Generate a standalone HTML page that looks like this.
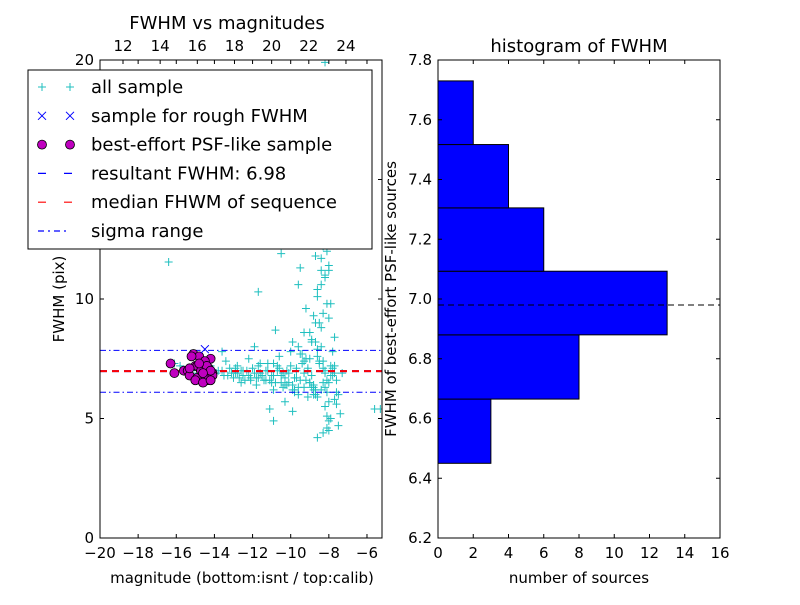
<!DOCTYPE html>
<html><head><meta charset="utf-8"><style>
body{margin:0;background:#fff;font-family:"Liberation Sans","DejaVu Sans",sans-serif}
svg text{font-family:"DejaVu Sans","Liberation Sans",sans-serif}
</style></head><body>
<svg id="fig" width="800" height="600" xmlns="http://www.w3.org/2000/svg">
<rect width="800" height="600" fill="#fff"/>
<g id="left"></g>
<g id="right"></g>
</svg>
<script>
const allMag=[-16.4,-16.1,-15.8,-15.2,-14.9,-14.6,-14.2,-13.9,-13.6,-13.3,-13.1,-12.9,-12.7,-12.5,-12.3,-12.1,-11.9,-11.7,-11.5,-11.3,-11.1,-10.9,-10.7,-10.5,-10.3,-10.1,-9.9,-9.7,-9.5,-9.3,-9.1,-8.9,-8.7,-8.5,-8.3,-8.1,-7.9,-7.7,-7.5,-13.4,-12.8,-12.2,-11.6,-11.0,-10.6,-10.2,-9.8,-9.4,-9.0,-8.6,-8.2,-7.8,-12.6,-11.8,-11.2,-10.4,-10.0,-9.6,-9.2,-8.8,-8.4,-8.0,-7.6,-11.9,-10.9,-9.9,-9.0,-8.5,-8.3,-8.1,-8.6,-8.4,-8.2,-8.0,-8.7,-8.3,-8.1,-7.9,-8.5,-8.2,-8.4,-8.0,-8.6,-8.3,-8.1,-8.5,-8.2,-8.4,-8.3,-8.6,-8.0,-8.8,-9.2,-9.6,-9.5,-10.5,-11.7,-13.6,-10.8,-7.9,-7.6,-7.4,-7.9,-8.2,-8.0,-9.9,-9.1,-10.3,-8.6,-8.1,-5.6,-5.3,-7.5,-7.3,-7.7,-8.7,-8.3,-8.0,-10.9,-11.1,-8.8,-8.1,-7.7,-9.6,-9.3,
-13.8,-13.5,-13.2,-13.0,-12.8,-12.6,-12.4,-12.2,-12.0,-11.8,-11.6,-11.4,-11.2,-11.0,-10.8,-10.6,-10.4,-10.2,-10.0,-9.8,-9.6,-9.4,-9.2,-9.0,-8.8,-8.6,-8.4,-8.2,-8.0,-7.8,-7.6,-12.9,-12.5,-12.1,-11.7,-11.3,-10.9,-10.5,-10.1,-9.7,-9.3,-8.9,-8.5,-8.1,-7.7,-11.5,-10.7,-9.9,-9.1,-8.7,-8.3,-7.9,-9.5,-8.9,-8.4,-8.0,-10.3,-9.7,-9.0,-8.6,-8.2,-7.8,-8.5,-8.3,-8.1,-8.4,-8.2,-8.6,-8.0,-8.3,-8.5,-8.1,-8.4,-8.2,-8.7,-8.9,-9.3,-9.8,-8.8,-8.3];
const allFwhm=[11.55,7.3,7.2,7.0,6.9,7.1,7.2,6.9,7.0,6.8,6.9,7.1,6.7,6.8,7.0,6.6,6.9,6.7,6.8,7.0,6.6,6.8,7.2,6.5,6.7,6.9,6.4,7.1,6.6,6.3,7.0,6.8,6.2,7.4,6.5,6.1,7.2,5.8,6.0,7.4,7.2,7.5,7.3,6.5,7.6,7.0,6.2,7.7,6.5,7.9,6.9,7.1,6.5,6.4,7.3,6.3,7.8,6.0,7.5,6.2,8.0,5.7,6.6,8.0,6.2,8.2,8.6,9.0,9.4,9.8,10.1,10.6,11.0,11.4,11.8,12.2,12.6,13.0,13.5,14.0,14.6,15.3,16.1,17.0,18.0,19.0,19.9,11.7,12.3,10.4,11.2,9.3,9.6,10.6,11.3,11.9,10.3,7.8,8.7,9.8,5.6,5.2,5.0,5.5,4.9,5.3,5.9,5.7,4.2,4.6,5.4,5.4,4.7,6.9,7.2,8.2,4.4,4.5,4.9,5.4,6.0,5.1,8.4,8.0,8.6,
7.0,6.8,7.1,6.7,6.9,7.0,6.6,6.8,7.1,6.7,6.9,6.6,7.0,6.8,6.5,7.1,6.9,6.4,7.2,6.7,6.3,7.3,6.6,7.5,6.4,7.6,6.2,7.0,6.5,7.8,6.1,6.9,7.0,6.7,7.2,6.6,7.3,6.8,6.5,7.0,6.9,6.3,7.3,6.6,6.9,6.8,7.0,6.2,7.1,6.0,7.4,6.8,7.7,8.3,8.8,9.2,6.4,6.7,6.5,5.9,6.3,6.8,12.8,13.2,13.8,14.3,15.0,15.7,16.5,17.5,18.6,12.0,11.2,10.9,9.0,8.2,7.4,6.1,6.3,7.1];
const psfMag=[-16.3,-16.1,-15.6,-15.4,-15.3,-15.1,-15.0,-14.9,-14.8,-14.7,-14.6,-14.5,-14.4,-14.3,-14.2,-14.1,-15.2,-14.9,-14.7,-14.5,-14.3,-14.1,-15.0,-14.6,-14.4,-14.8,-14.2,-15.3,-14.6,-14.2];
const psfFwhm=[7.3,6.9,7.0,7.0,6.8,7.7,7.2,6.7,7.6,7.0,7.3,6.8,6.6,7.1,7.5,6.9,7.6,7.2,7.0,7.4,6.7,6.8,6.6,6.5,7.2,7.3,7.0,7.1,6.9,6.6];
const roughMag=[-14.5];
const roughFwhm=[7.9];
const resultFwhm=6.98, sigmaHi=7.85, sigmaLo=6.1;
const binEdges=[6.45,6.665,6.88,7.093,7.305,7.517,7.73];
const binCounts=[3,8,13,6,4,2];
const xTicks=[-20,-18,-16,-14,-12,-10,-8,-6];
const topTicks=[12,14,16,18,20,22,24];
const yTicks=[0,5,10,15,20];
const hxTicks=[0,2,4,6,8,10,12,14,16];
const hyTicks=[6.2,6.4,6.6,6.8,7.0,7.2,7.4,7.6,7.8];

const NS="http://www.w3.org/2000/svg";
function mk(p,t,a,txt){const e=document.createElementNS(NS,t);for(const k in a)e.setAttribute(k,a[k]);if(txt!==undefined)e.textContent=txt;p.appendChild(e);return e;}
const lx=m=>100+(m+20)*19.07, ly=f=>538-f*23.9, tx=v=>123+(v-12)*18.58;
const lg=document.getElementById('left');
mk(lg,'clipPath',{id:'lc'}).appendChild(document.createElementNS(NS,'rect'));
const cr=document.querySelector('#lc rect');cr.setAttribute('x',100);cr.setAttribute('y',60);cr.setAttribute('width',282);cr.setAttribute('height',478);
const pts=mk(lg,'g',{'clip-path':'url(#lc)'});
allMag.forEach((m,i)=>{const x=lx(m),y=ly(allFwhm[i]);
const p=mk(pts,'path',{d:`M${x-4},${y}H${x+4}M${x},${y-4}V${y+4}`,stroke:'#1fbfbf','stroke-width':1});
});
function hline(v,dash,color,w,name){const l=mk(pts,'line',{x1:100,x2:382,y1:ly(v),y2:ly(v),stroke:color,'stroke-width':w,'stroke-dasharray':dash});}
hline(sigmaHi,'6,3,1.5,3','#0000ff',1,'sigma-upper-line');
hline(sigmaLo,'6,3,1.5,3','#0000ff',1,'sigma-lower-line');
hline(resultFwhm,'7,5','#0000ff',2,'resultant-fwhm-line');
hline(resultFwhm,'7,5','#ff0000',2,'median-fwhm-line');
psfMag.forEach((m,i)=>{const c=mk(pts,'circle',{cx:lx(m),cy:ly(psfFwhm[i]),r:4.5,fill:'#bf00bf',stroke:'#000','stroke-width':0.8});
});
roughMag.forEach((m,i)=>{const x=lx(m),y=ly(roughFwhm[i]);const p=mk(pts,'path',{d:`M${x-4},${y-4}L${x+4},${y+4}M${x-4},${y+4}L${x+4},${y-4}`,stroke:'#0000ff'});
});
mk(lg,'rect',{x:100,y:60,width:282,height:478,fill:'none',stroke:'#000'});
xTicks.forEach(v=>{const x=lx(v);mk(lg,'path',{d:`M${x},538v-4M${x},60v4`,stroke:'#000'});mk(lg,'text',{x:x,y:558,'font-size':15,'text-anchor':'middle'},(v<0?'\u2212'+(-v):v));});
topTicks.forEach(v=>{const x=tx(v);mk(lg,'path',{d:`M${x},60v4`,stroke:'#000'});mk(lg,'text',{x:x,y:51,'font-size':15,'text-anchor':'middle'},v);});
yTicks.forEach(v=>{const y=ly(v);mk(lg,'path',{d:`M100,${y}h4M382,${y}h-4`,stroke:'#000'});mk(lg,'text',{x:94,y:y+5,'font-size':15,'text-anchor':'end'},v);});
mk(lg,'text',{x:227,y:29,'font-size':18,'text-anchor':'middle'},'FWHM vs magnitudes');
mk(lg,'text',{x:242,y:583,'font-size':15,'text-anchor':'middle'},'magnitude (bottom:isnt / top:calib)');
mk(lg,'text',{x:0,y:0,'font-size':15,'text-anchor':'middle',transform:'translate(64,299) rotate(-90)'},'FWHM (pix)');
const leg=mk(lg,'g',{});
mk(leg,'rect',{x:28,y:70,width:344,height:179,fill:'#fff',stroke:'#000','stroke-width':1});
const ents=[['all sample','plus'],['sample for rough FWHM','x'],['best-effort PSF-like sample','o'],['resultant FWHM: 6.98','bdash'],['median FHWM of sequence','rdash'],['sigma range','dd']];
ents.forEach((e,i)=>{const y=87+i*28.8;const g=mk(leg,'g',{});
[42,70].forEach(x=>{if(e[1]=='plus')mk(g,'path',{d:`M${x-4},${y}h8M${x},${y-4}v8`,stroke:'#1fbfbf'});
if(e[1]=='x')mk(g,'path',{d:`M${x-4},${y-4}l8,8M${x-4},${y+4}l8,-8`,stroke:'#0000ff'});
if(e[1]=='o')mk(g,'circle',{cx:x,cy:y,r:4.5,fill:'#bf00bf',stroke:'#000','stroke-width':0.8});});
if(e[1]=='bdash')mk(g,'path',{d:`M38,${y}h8M64,${y}h8`,stroke:'#0000ff','stroke-width':1.2});
if(e[1]=='rdash')mk(g,'path',{d:`M38,${y}h8M64,${y}h8`,stroke:'#ff0000','stroke-width':1.2});
if(e[1]=='dd')mk(g,'path',{d:`M38,${y}h6M48,${y}h2M54,${y}h6M64,${y}h2`,stroke:'#0000ff','stroke-width':1.2});
mk(g,'text',{x:91,y:y+6,'font-size':18},e[0]);});
const rg=document.getElementById('right');
const hx=c=>438+c*17.625, hy=v=>538-(v-6.2)*298.75;
binCounts.forEach((c,i)=>{const y0=hy(binEdges[i+1]),y1=hy(binEdges[i]);const r=mk(rg,'rect',{x:438,y:y0,width:hx(c)-438,height:y1-y0,fill:'#0000ff',stroke:'#000','stroke-width':1});
});
mk(rg,'line',{x1:438,x2:720,y1:hy(resultFwhm),y2:hy(resultFwhm),stroke:'#000','stroke-dasharray':'6,4'});
mk(rg,'rect',{x:438,y:60,width:282,height:478,fill:'none',stroke:'#000'});
hxTicks.forEach(v=>{const x=hx(v);mk(rg,'path',{d:`M${x},538v-4M${x},60v4`,stroke:'#000'});mk(rg,'text',{x:x,y:558,'font-size':15,'text-anchor':'middle'},v);});
hyTicks.forEach(v=>{const y=hy(v);mk(rg,'path',{d:`M438,${y}h4M720,${y}h-4`,stroke:'#000'});mk(rg,'text',{x:432,y:y+5,'font-size':15,'text-anchor':'end'},v.toFixed(1));});
mk(rg,'text',{x:579,y:52,'font-size':18,'text-anchor':'middle'},'histogram of FWHM');
mk(rg,'text',{x:579,y:583,'font-size':15,'text-anchor':'middle'},'number of sources');
mk(rg,'text',{x:0,y:0,'font-size':15,'text-anchor':'middle',transform:'translate(396,299) rotate(-90)'},'FWHM of best-effort PSF-like sources');
</script>
</body></html>
